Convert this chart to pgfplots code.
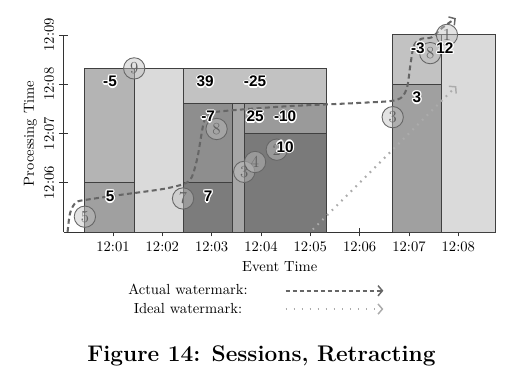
\documentclass[border=0pt]{standalone}
\usepackage{fontspec}
\usepackage{pgfplots}
\pgfplotsset{compat=1.18}
\usetikzlibrary{arrows.meta}
\newfontfamily\lblfont{Liberation Sans}
\newcommand\hl[3]{\rlap{\kern#1\raisebox{#2}{\textcolor{white}{#3}}}}
\newcommand\halo[1]{\hl{-.9pt}{0pt}{#1}\hl{.9pt}{0pt}{#1}\hl{0pt}{.9pt}{#1}\hl{0pt}{-.9pt}{#1}%
\hl{-.65pt}{.65pt}{#1}\hl{.65pt}{.65pt}{#1}\hl{-.65pt}{-.65pt}{#1}\hl{.65pt}{-.65pt}{#1}#1}
\definecolor{cA}{HTML}{B4B4B4}
\definecolor{cB}{HTML}{A0A0A0}
\definecolor{cC}{HTML}{DADADA}
\definecolor{cD}{HTML}{C2C2C2}
\definecolor{cE}{HTML}{8E8E8E}
\definecolor{cF}{HTML}{7C7C7C}
\definecolor{cG}{HTML}{A6A6A6}
\definecolor{cH}{HTML}{9A9A9A}
\definecolor{cI}{HTML}{7A7A7A}
\definecolor{wmA}{HTML}{666666}
\definecolor{wmI}{HTML}{ABABAB}
\definecolor{circ}{HTML}{C0C0C0}
\tikzset{
  actualwm/.style={wmA, line width=1.4pt, dash pattern=on 3.4pt off 2.3pt},
  idealwm/.style={wmI, line width=1.4pt, dash pattern=on 1.2pt off 3.4pt},
  wmtip/.style={-{Straight Barb[length=3pt, width=7pt, line width=1pt]}},
}
\begin{document}
\begin{tikzpicture}
\begin{axis}[
  at={(0,0)}, anchor=south west,
  scale only axis, width=296pt, height=135pt,
  xmin=0, xmax=8.76, ymin=5, ymax=9,
  axis x line=bottom, axis y line=left,
  axis line style={-, line width=0.6pt, black!80},
  clip=false,
  xtick={1,2,3,4,5,6,7,8},
  xticklabels={12:01,12:02,12:03,12:04,12:05,12:06,12:07,12:08},
  ytick={6,7,8,9},
  yticklabels={12:06,12:07,12:08,12:09},
  yticklabel style={rotate=90, anchor=south},
  tick align=center, major tick length=6pt,
  tick style={black!80, line width=0.5pt},
  xlabel={Event Time}, ylabel={Processing Time},
  ylabel style={yshift=-2pt},
  legend plot pos=right,
  legend cell align=center,
  legend style={at={(0.443,-0.235)}, anchor=north, draw=none, fill=none,
    row sep=0pt, nodes={inner sep=2pt}},
]
% rectangles
\addplot[fill=cB, draw=black!75, line width=0.6pt, forget plot] coordinates {(0.43,5) (1.44,5) (1.44,6) (0.43,6) (0.43,5)};
\addplot[fill=cA, draw=black!75, line width=0.6pt, forget plot] coordinates {(0.43,6) (1.44,6) (1.44,8.32) (0.43,8.32) (0.43,6)};
\addplot[fill=cC, draw=black!75, line width=0.6pt, forget plot] coordinates {(1.44,5) (2.43,5) (2.43,8.32) (1.44,8.32) (1.44,5)};
\addplot[fill=cD, draw=black!75, line width=0.6pt, forget plot] coordinates {(2.43,7.61) (5.33,7.61) (5.33,8.32) (2.43,8.32) (2.43,7.61)};
\addplot[fill=cF, draw=black!75, line width=0.6pt, forget plot] coordinates {(2.43,5) (3.43,5) (3.43,6) (2.43,6) (2.43,5)};
\addplot[fill=cE, draw=black!75, line width=0.6pt, forget plot] coordinates {(2.43,6) (3.43,6) (3.43,7.61) (2.43,7.61) (2.43,6)};
\addplot[fill=cG, draw=black!75, line width=0.6pt, forget plot] coordinates {(3.43,5) (3.66,5) (3.66,7.61) (3.43,7.61) (3.43,5)};
\addplot[fill=cH, draw=black!75, line width=0.6pt, forget plot] coordinates {(3.66,7) (5.33,7) (5.33,7.61) (3.66,7.61) (3.66,7)};
\addplot[fill=cI, draw=black!75, line width=0.6pt, forget plot] coordinates {(3.66,5) (5.33,5) (5.33,7) (3.66,7) (3.66,5)};
\addplot[fill=cB, draw=black!75, line width=0.6pt, forget plot] coordinates {(6.67,5) (7.66,5) (7.66,8) (6.67,8) (6.67,5)};
\addplot[fill=cD, draw=black!75, line width=0.6pt, forget plot] coordinates {(6.67,8) (7.66,8) (7.66,9) (6.67,9) (6.67,8)};
\addplot[fill=cC, draw=black!75, line width=0.6pt, forget plot] coordinates {(7.66,5) (8.76,5) (8.76,9) (7.66,9) (7.66,5)};
% watermarks
\addplot[actualwm, wmtip, smooth, tension=0.5,
  legend image code/.code={\path[draw=none, fill=none] (0pt,-3pt) rectangle (92pt,3pt);
    \draw[wmA, line width=1.1pt, dash pattern=on 3pt off 1.8pt, wmtip] (24pt,0pt) -- (91pt,0pt);}]
  coordinates {
  (0.08,5.0) (0.13,5.38) (0.25,5.6) (0.5,5.66) (1.2,5.76) (2.0,5.87) (2.45,5.98)
  (2.6,6.12) (2.71,6.5) (2.78,6.9) (2.84,7.22) (2.93,7.39) (3.2,7.45) (4.5,7.55) (6.0,7.62) (6.75,7.68)
  (6.95,7.9) (7.03,8.4) (7.1,8.78) (7.25,8.92) (7.46,8.95) (7.67,9.14) (7.95,9.34)};
\addlegendentry{Actual watermark:}
\addplot[idealwm, wmtip,
  legend image code/.code={\path[draw=none, fill=none] (0pt,-3pt) rectangle (92pt,3pt);
    \draw[wmI, line width=1.1pt, dash pattern=on 1pt off 4.5pt, wmtip] (24pt,0pt) -- (91pt,0pt);}]
  coordinates {(5.05,5.05) (7.96,7.96)};
\addlegendentry{Ideal watermark:}
% events: circles
\addplot[only marks, mark=*, mark size=7.3pt,
  mark options={fill=circ, fill opacity=0.45, draw=black!60, line width=0.6pt},
  forget plot] table {
x y
0.43 5.31
1.43 8.32
2.42 5.68
3.10 7.09
3.66 6.22
3.88 6.42
4.32 6.67
6.67 7.33
7.43 8.63
7.77 9.00
};
% events: numbers
\addplot[draw=none, mark=none, point meta=explicit symbolic,
  nodes near coords, nodes near coords align=center,
  every node near coord/.append style={text=black!62, text opacity=1, fill opacity=1,
    font=\fontsize{11.5}{12}\selectfont, inner sep=0pt, anchor=center},
  forget plot] table[meta=lab] {
x y lab
0.43 5.31 5
1.43 8.32 9
2.42 5.68 7
3.10 7.09 8
3.66 6.22 3
3.88 6.42 4
4.32 6.67 2
6.67 7.33 3
7.43 8.63 8
7.77 9.00 1
};
% labels
\addplot[draw=none, mark=none, point meta=explicit symbolic,
  nodes near coords={\halo{\pgfplotspointmeta}}, nodes near coords align=center,
  every node near coord/.append style={font=\lblfont\bfseries\fontsize{10.5}{11}\selectfont, inner sep=0pt, anchor=center},
  forget plot] table[meta=lab] {
x y lab
0.94 8.05 -5
0.94 5.72 5
2.87 8.05 39
3.88 8.05 -25
2.93 7.34 -7
2.93 5.72 7
3.88 7.34 25
4.49 7.34 -10
4.49 6.73 10
7.18 8.73 -3
7.73 8.73 12
7.16 7.73 3
};
\end{axis}
\node[font=\fontsize{15.5}{18}\selectfont\bfseries] at (135.5pt,-84.9pt) {Figure 14: Sessions, Retracting};
\pgfresetboundingbox
\path (-43.6pt,-100pt) rectangle (311.9pt,158.9pt);
\end{tikzpicture}
\end{document}
